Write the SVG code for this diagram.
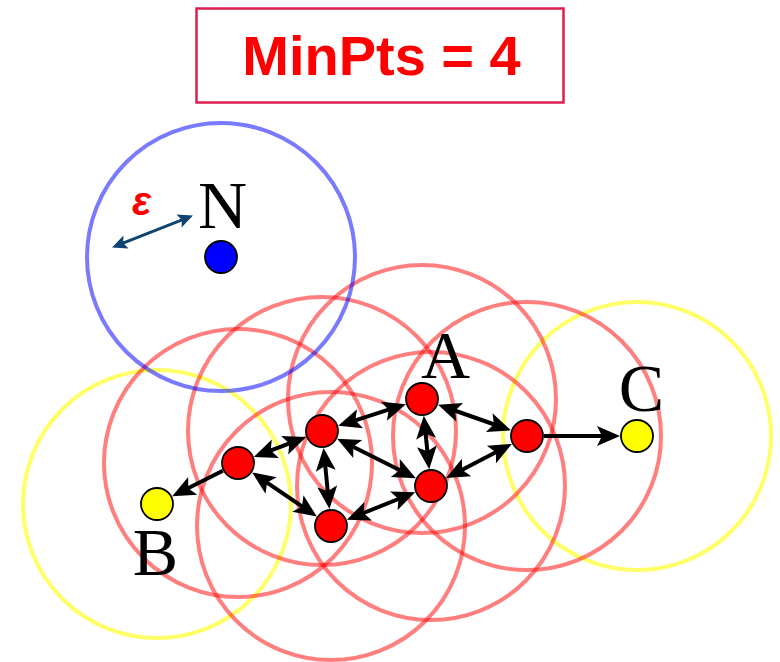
<svg xmlns="http://www.w3.org/2000/svg" width="780" height="662" viewBox="0 0 780 662">
<style>
.rc{fill:none;stroke:rgba(255,0,0,0.5);stroke-width:4}
.yc{fill:none;stroke:rgba(255,255,0,0.6);stroke-width:4}
.bc{fill:none;stroke:rgba(0,0,255,0.52);stroke-width:4}
.core{fill:#ff0000;stroke:#000;stroke-width:1.8}
.border{fill:#ffff00;stroke:#000;stroke-width:1.8}
.noise{fill:#0000ff;stroke:#000;stroke-width:1.8}
.edge{stroke:#000;stroke-width:4;fill:none}
.lbl{font-family:"Liberation Serif","Times New Roman",serif;font-size:68px;fill:#000;text-anchor:middle}
</style>
<defs>
<marker id="ah" markerUnits="userSpaceOnUse" orient="auto-start-reverse" markerWidth="30" markerHeight="30" refX="13" refY="0" viewBox="0 -15 30 30" overflow="visible">
<path d="M0,-10 L23,0 L0,10 L5,0 Z" fill="#000"/>
</marker>
<marker id="eah" markerUnits="userSpaceOnUse" orient="auto-start-reverse" markerWidth="20" markerHeight="20" refX="6" refY="0" viewBox="0 -10 20 20" overflow="visible">
<path d="M0,-7 L15,0 L0,7 L3,0 Z" fill="#0f4471"/>
</marker>
</defs>
<rect width="780" height="662" fill="#fff"/>
<g id="title">
<rect x="196.5" y="8.5" width="367" height="94" fill="#fff" stroke="#dc1f4e" stroke-width="2.5"/>
<text x="381.5" y="75" font-family="'Liberation Sans',Arial,sans-serif" font-weight="bold" font-size="56" fill="#ff0000" text-anchor="middle">MinPts = 4</text>
</g>
<g id="neighborhoods">
<circle class="yc" cx="157" cy="504" r="134"/>
<circle class="yc" cx="637" cy="436" r="134"/>
<circle class="rc" cx="238" cy="463" r="134"/>
<circle class="rc" cx="322" cy="431" r="134"/>
<circle class="rc" cx="422" cy="399" r="134"/>
<circle class="rc" cx="527" cy="436" r="134"/>
<circle class="rc" cx="431" cy="486" r="134"/>
<circle class="rc" cx="331" cy="526" r="134"/>
<circle class="bc" cx="221" cy="257" r="134"/>
</g>
<g id="connectors">
<line class="edge" x1="263.2" y1="453.4" x2="296.8" y2="440.6" marker-start="url(#ah)" marker-end="url(#ah)"/>
<line class="edge" x1="260.4" y1="478.1" x2="308.6" y2="510.9" marker-start="url(#ah)" marker-end="url(#ah)"/>
<line class="edge" x1="222.8" y1="470.7" x2="181.1" y2="491.8" marker-end="url(#ah)"/>
<line class="edge" x1="347.7" y1="422.8" x2="396.3" y2="407.2" marker-start="url(#ah)" marker-end="url(#ah)"/>
<line class="edge" x1="324.5" y1="457.9" x2="328.5" y2="499.1" marker-start="url(#ah)" marker-end="url(#ah)"/>
<line class="edge" x1="346.1" y1="443.2" x2="406.9" y2="473.8" marker-start="url(#ah)" marker-end="url(#ah)"/>
<line class="edge" x1="424.8" y1="425.8" x2="428.2" y2="459.2" marker-start="url(#ah)" marker-end="url(#ah)"/>
<line class="edge" x1="447.5" y1="408.0" x2="501.5" y2="427.0" marker-start="url(#ah)" marker-end="url(#ah)"/>
<line class="edge" x1="455.0" y1="473.5" x2="503.0" y2="448.5" marker-start="url(#ah)" marker-end="url(#ah)"/>
<line class="edge" x1="356.1" y1="516.0" x2="405.9" y2="496.0" marker-start="url(#ah)" marker-end="url(#ah)"/>
<line class="edge" x1="544" y1="436" x2="610" y2="436" marker-end="url(#ah)"/>
<line x1="120.4" y1="244.1" x2="184.6" y2="218.9" stroke="#0f4471" stroke-width="2.8" marker-start="url(#eah)" marker-end="url(#eah)"/>
</g>
<g id="node-N">
<circle class="noise" cx="221" cy="257" r="16"/>
<text class="lbl" x="222.5" y="228">N</text>
<text x="141.5" y="215" font-family="'Liberation Sans',Arial,sans-serif" font-weight="bold" font-style="italic" font-size="40" fill="#ff0000" text-anchor="middle">ε</text>
</g>
<g id="node-1"><circle class="core" cx="238" cy="463" r="16"/></g>
<g id="node-2"><circle class="core" cx="322" cy="431" r="16"/></g>
<g id="node-A"><circle class="core" cx="422" cy="399" r="16"/><text class="lbl" x="445.5" y="378">A</text></g>
<g id="node-4"><circle class="core" cx="527" cy="436" r="16"/></g>
<g id="node-5"><circle class="core" cx="431" cy="486" r="16"/></g>
<g id="node-6"><circle class="core" cx="331" cy="526" r="16"/></g>
<g id="node-B"><circle class="border" cx="157" cy="504" r="16"/><text class="lbl" x="155.5" y="575">B</text></g>
<g id="node-C"><circle class="border" cx="637" cy="436" r="16"/><text class="lbl" x="641.5" y="411">C</text></g>
</svg>
